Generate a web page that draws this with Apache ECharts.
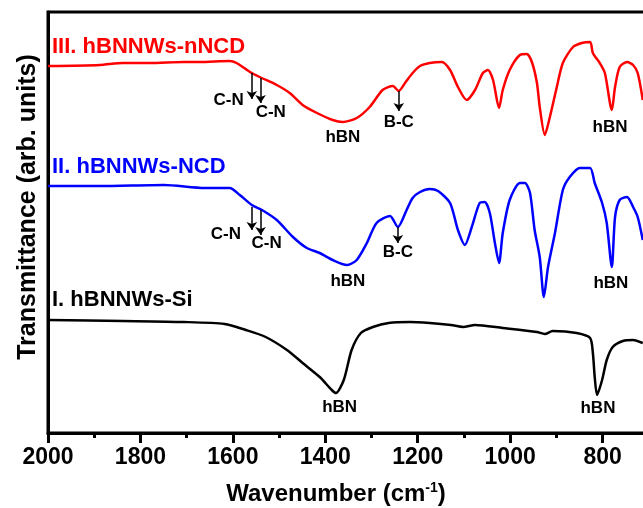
<!DOCTYPE html>
<html>
<head>
<meta charset="utf-8">
<script src="https://cdn.jsdelivr.net/npm/echarts@6/dist/echarts.min.js"></script>
<style>
  html, body { margin: 0; padding: 0; background: #fff; }
  #chart { width: 643px; height: 508px; }
</style>
</head>
<body>
<div id="chart"></div>
<script>
// wavenumber (cm-1) and transmittance (arb. units, offset per sample)
const wnRed = [2000,1888,1838,1780,1706,1672,1607,1592,1563,1542,1505,1477,1449,1418,1384,1362,1332,1304,1276,1254,1241,1226,1211,1195,1174,1148,1130,1113,1094,1076,1059,1048,1037,1024,1016,1001,979,964,953,942,936,925,914,899,886,864,845,827,821,806,795,780,773,763,747,734,724,713];
const tRed = [367,368,370,370,371,371,372,370,361,356,348,340,328,320,313,311,315,326,343,347,342,351,360,367,370,371,363,346,333,343,360,363,353,325,343,363,378,379,371,350,326,298,316,346,370,386,390,391,380,370,360,323,346,366,371,368,360,333];

const wnBlue = [2000,1888,1749,1661,1607,1585,1559,1537,1505,1470,1440,1412,1384,1353,1332,1310,1289,1260,1243,1224,1211,1195,1174,1156,1130,1113,1098,1083,1066,1055,1044,1033,1024,1016,1001,979,968,957,947,936,927,918,903,886,871,849,827,817,801,791,780,773,763,747,734,724,713];
const tBlue = [247,247,248,245,245,238,228,223,213,196,185,180,173,168,173,190,210,217,206,223,235,241,244,242,230,203,188,206,230,231,220,190,170,200,233,250,250,240,203,176,136,166,200,243,256,265,265,250,230,210,166,216,233,236,226,216,193];

const wnBlack = [2000,1838,1706,1618,1572,1529,1483,1449,1412,1386,1377,1360,1343,1323,1297,1263,1217,1174,1128,1102,1076,1016,942,925,908,856,827,821,817,812,801,791,778,756,734,713];
const tBlack = [113,112,111,109,103,96,83,70,56,43,40,53,83,100,106,110,111,110,108,106,108,105,101,99,102,100,95,80,56,38,53,73,86,92,93,90];

// peak labels: [text, wavenumber, value]
const redNotes = [['C-N',1609,333],['C-N',1518,321],['hBN',1362,296],['B-C',1241,311],['hBN',784,306]];
const blueNotes = [['C-N',1615,199],['C-N',1527,190],['hBN',1351,152],['B-C',1243,181],['hBN',782,150]];
const blackNotes = [['hBN',1369,26],['hBN',810,25]];
// arrows: [wavenumber, from, to]
const redArrows = [[1559,360,334],[1540,355,330],[1241,342,322]];
const blueArrows = [[1559,226,203],[1540,223,198],[1243,206,190]];

const sampleNames = ['III. hBNNWs-nNCD','II. hBNNWs-NCD','I. hBNNWs-Si'];
const xTicks = { min: 600, max: 2000, step: 200 };

const FONT = '"Liberation Sans", Arial, sans-serif';

function notesMark(notes) {
  return {
    symbol: 'circle',
    symbolSize: 0,
    silent: true,
    label: {
      show: true, position: 'inside', formatter: '{b}',
      color: '#000', fontSize: 17, fontWeight: 'bold', fontFamily: FONT
    },
    data: notes.map(n => ({ name: n[0], coord: [n[1], n[2]] }))
  };
}

function arrowsMark(arrows) {
  return {
    symbol: ['none', 'arrow'],
    symbolSize: 8,
    silent: true,
    label: { show: false },
    lineStyle: { color: '#000', width: 1.5, type: 'solid' },
    data: arrows.map(a => [{ coord: [a[0], a[1]] }, { coord: [a[0], a[2]] }])
  };
}

function curve(name, wn, t, color, notes, arrows) {
  const s = {
    name: name,
    type: 'line',
    showSymbol: false,
    smooth: 0.25,
    data: wn.map((w, i) => [w, t[i]]),
    lineStyle: { color: color, width: 2.5 },
    itemStyle: { color: color },
    markPoint: notesMark(notes)
  };
  if (arrows) s.markLine = arrowsMark(arrows);
  return s;
}

const chart = echarts.init(document.getElementById('chart'));
chart.setOption({
  animation: false,
  backgroundColor: '#fff',
  grid: {
    left: 48, top: 12, width: 647, height: 421,
    containLabel: false,
    outerBoundsMode: 'none',
    show: true, borderColor: '#000', borderWidth: 3
  },
  xAxis: {
    type: 'value',
    inverse: true,
    min: xTicks.min, max: xTicks.max, interval: xTicks.step,
    axisLine: { show: true, lineStyle: { color: '#000', width: 3 } },
    axisTick: { show: true, length: 10, lineStyle: { color: '#000', width: 3 } },
    minorTick: { show: true, splitNumber: 2, length: 5, lineStyle: { color: '#000', width: 3 } },
    splitLine: { show: false },
    axisLabel: {
      color: '#000', fontSize: 23, fontWeight: 'bold', fontFamily: FONT, margin: 13,
      formatter: v => String(v)
    }
  },
  yAxis: {
    type: 'value',
    min: 0, max: 421,
    axisLine: { show: true, lineStyle: { color: '#000', width: 3 } },
    axisTick: { show: false },
    axisLabel: { show: false },
    splitLine: { show: false }
  },
  series: [
    curve(sampleNames[0], wnRed, tRed, '#ff0000', redNotes, redArrows),
    curve(sampleNames[1], wnBlue, tBlue, '#0000ff', blueNotes, blueArrows),
    curve(sampleNames[2], wnBlack, tBlack, '#000000', blackNotes, null)
  ],
  graphic: [
    { type: 'text', x: 52, y: 47, style: { text: sampleNames[0], fill: '#ff0000', font: 'bold 22px ' + FONT, verticalAlign: 'middle' } },
    { type: 'text', x: 52, y: 167, style: { text: sampleNames[1], fill: '#0000ff', font: 'bold 22px ' + FONT, verticalAlign: 'middle' } },
    { type: 'text', x: 52, y: 300, style: { text: sampleNames[2], fill: '#000', font: 'bold 22px ' + FONT, verticalAlign: 'middle' } },
    {
      type: 'text', x: 336, y: 494,
      style: {
        text: 'Wavenumber (cm{sup|-1})',
        fill: '#000', font: 'bold 24px ' + FONT, align: 'center', verticalAlign: 'middle',
        rich: { sup: { fontSize: 14, fontWeight: 'bold', fontFamily: FONT, verticalAlign: 'top', lineHeight: 26 } }
      }
    },
    {
      type: 'text', x: 28, y: 207, rotation: Math.PI / 2,
      style: {
        text: 'Transmittance (arb. units)',
        fill: '#000', font: 'bold 25px ' + FONT, align: 'center', verticalAlign: 'middle'
      }
    }
  ]
});
</script>
</body>
</html>
